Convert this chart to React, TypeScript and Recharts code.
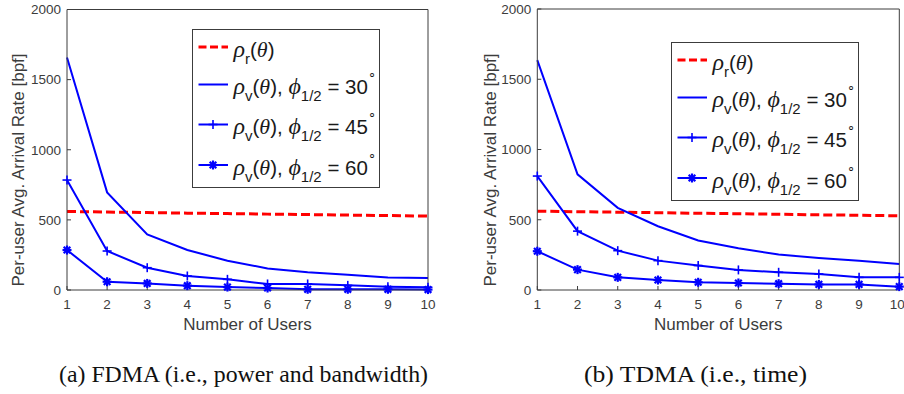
import { LineChart, Line, XAxis, YAxis } from 'recharts';

const users = [1, 2, 3, 4, 5, 6, 7, 8, 9, 10];
const yTicks = [0, 500, 1000, 1500, 2000];
const halfAngles = ['30', '45', '60'];

// (a) FDMA
const fdmaRhoR = [560, 556, 552, 548, 545, 541, 538, 534, 531, 527];
const fdma30 = [1658, 696, 397, 285, 209, 154, 126, 109, 90, 85];
const fdma45 = [784, 278, 159, 100, 76, 43, 43, 33, 24, 19];
const fdma60 = [285, 59, 47, 31, 21, 14, 5, 5, 5, 3];

// (b) TDMA
const tdmaRhoR = [561, 557, 554, 550, 546, 543, 539, 535, 532, 528];
const tdma30 = [1636, 823, 585, 454, 352, 297, 252, 228, 209, 185];
const tdma45 = [811, 419, 280, 209, 174, 143, 126, 114, 90, 90];
const tdma60 = [276, 145, 90, 71, 55, 50, 45, 40, 40, 24];

const captions = ['(a) FDMA (i.e., power and bandwidth)', '(b) TDMA (i.e., time)'];

const SANS = '"Liberation Sans", Arial, Helvetica, sans-serif';
const SERIF = '"Liberation Serif", "Times New Roman", serif';
const AXIS_GREY = '#3c3c3c';
const BLUE = '#0000ff';
const RED = '#ff0000';

const buildRows = (r: number[], a: number[], b: number[], c: number[]) =>
  users.map((u, i) => ({ users: u, rhoR: r[i], v30: a[i], v45: b[i], v60: c[i] }));

const PlusDot = (props: any) => {
  const { cx, cy } = props;
  if (cx == null || cy == null) return null;
  const s = 4.5;
  return (
    <g stroke={BLUE} strokeWidth={1.6}>
      <line x1={cx - s} y1={cy} x2={cx + s} y2={cy} />
      <line x1={cx} y1={cy - s} x2={cx} y2={cy + s} />
    </g>
  );
};

const StarDot = (props: any) => {
  const { cx, cy } = props;
  if (cx == null || cy == null) return null;
  const s = 4.5;
  const d = 3.3;
  return (
    <g stroke={BLUE} strokeWidth={2.2}>
      <line x1={cx - s} y1={cy} x2={cx + s} y2={cy} />
      <line x1={cx} y1={cy - s} x2={cx} y2={cy + s} />
      <line x1={cx - d} y1={cy - d} x2={cx + d} y2={cy + d} />
      <line x1={cx - d} y1={cy + d} x2={cx + d} y2={cy - d} />
    </g>
  );
};

function LegendBox({ left, top }: { left: number; top: number }) {
  const rowY = [18, 55.5, 95.5, 136];
  return (
    <svg
      width={188}
      height={159}
      style={{ position: 'absolute', left, top, overflow: 'visible' }}
    >
      <rect x={0.5} y={0.5} width={187} height={158} fill="#fff" stroke="#3c3c3c" strokeWidth={1} />
      {rowY.map((y, i) => {
        const base = y + 9.5;
        return (
          <g key={i}>
            {i === 0 ? (
              <line x1={6.5} x2={36} y1={y} y2={y} stroke={RED} strokeWidth={3} strokeDasharray="8 3.5" />
            ) : (
              <line x1={6.5} x2={36} y1={y} y2={y} stroke={BLUE} strokeWidth={2} />
            )}
            {i === 2 && <PlusDot cx={21} cy={y} />}
            {i === 3 && <StarDot cx={21} cy={y} />}
            <text x={41.5} y={base} fontSize={20.5} fontFamily={SANS} fill="#1a1a1a">
              <tspan fontFamily={SERIF} fontStyle="italic" fontSize={24}>ρ</tspan>
              <tspan fontSize={15} dy={7}>{i === 0 ? 'r' : 'v'}</tspan>
              <tspan dy={-7}>(</tspan>
              <tspan fontFamily={SERIF} fontStyle="italic" fontSize={22}>θ</tspan>
              <tspan>)</tspan>
              {i > 0 && (
                <>
                  <tspan>, </tspan>
                  <tspan fontFamily={SERIF} fontStyle="italic" fontSize={24}>ϕ</tspan>
                  <tspan fontSize={15} dy={7}>1/2</tspan>
                  <tspan dy={-7}>{` = ${halfAngles[i - 1]}`}</tspan>
                  <tspan fontSize={13} dy={-16}>∘</tspan>
                </>
              )}
            </text>
          </g>
        );
      })}
    </svg>
  );
}

interface PanelProps {
  rows: ReturnType<typeof buildRows>;
  left: number;
  width: number;
  yAxisWidth: number;
  marginTop: number;
  marginRight: number;
  yLabelX: number;
  legendLeft: number;
  legendTop: number;
}

function Panel({ rows, left, width, yAxisWidth, marginTop, marginRight, yLabelX, legendLeft, legendTop }: PanelProps) {
  const tickStyle = { fontSize: 13.5, fill: AXIS_GREY, fontFamily: SANS };
  return (
    <div style={{ position: 'absolute', left, top: 0, width, height: 340 }}>
      <LineChart
        width={width}
        height={340}
        data={rows}
        margin={{ top: marginTop, right: marginRight, bottom: 0, left: 0 }}
      >
        <XAxis
          dataKey="users"
          type="number"
          domain={[1, 10]}
          ticks={users}
          height={50}
          tickSize={-4}
          tickMargin={13}
          stroke={AXIS_GREY}
          tick={tickStyle}
          label={{
            value: 'Number of Users',
            position: 'insideBottom',
            offset: 10,
            fontSize: 17,
            fill: AXIS_GREY,
            fontFamily: SANS,
          }}
        />
        <XAxis
          xAxisId="top"
          orientation="top"
          dataKey="users"
          type="number"
          domain={[1, 10]}
          ticks={users}
          height={1}
          tickSize={-4}
          tick={false}
          stroke={AXIS_GREY}
        />
        <YAxis
          type="number"
          domain={[0, 2000]}
          ticks={yTicks}
          width={yAxisWidth}
          tickSize={-4}
          tickMargin={10}
          stroke={AXIS_GREY}
          tick={tickStyle}
          label={() => (
            <text
              x={yLabelX}
              y={170}
              transform={`rotate(-90, ${yLabelX}, 170)`}
              textAnchor="middle"
              fontSize={17}
              fill={AXIS_GREY}
              fontFamily={SANS}
            >
              Per-user Avg. Arrival Rate [bpf]
            </text>
          )}
        />
        <YAxis
          yAxisId="right"
          orientation="right"
          type="number"
          domain={[0, 2000]}
          ticks={yTicks}
          width={1}
          tickSize={-4}
          tick={false}
          stroke={AXIS_GREY}
        />
        <Line
          dataKey="rhoR"
          stroke={RED}
          strokeWidth={3}
          strokeDasharray="9 4"
          dot={false}
          isAnimationActive={false}
        />
        <Line dataKey="v30" stroke={BLUE} strokeWidth={2} dot={false} isAnimationActive={false} />
        <Line dataKey="v45" stroke={BLUE} strokeWidth={2} dot={<PlusDot />} isAnimationActive={false} />
        <Line dataKey="v60" stroke={BLUE} strokeWidth={2} dot={<StarDot />} isAnimationActive={false} />
      </LineChart>
      <LegendBox left={legendLeft} top={legendTop} />
    </div>
  );
}

export default function App() {
  const fdmaRows = buildRows(fdmaRhoR, fdma30, fdma45, fdma60);
  const tdmaRows = buildRows(tdmaRhoR, tdma30, tdma45, tdma60);
  return (
    <div
      style={{
        position: 'absolute',
        left: 0,
        top: 0,
        width: 904,
        height: 394,
        background: '#fff',
        overflow: 'hidden',
      }}
    >
      <Panel
        rows={fdmaRows}
        left={0}
        width={450}
        yAxisWidth={67}
        marginTop={8.5}
        marginRight={21}
        yLabelX={24}
        legendLeft={191.7}
        legendTop={29.3}
      />
      <Panel
        rows={tdmaRows}
        left={450}
        width={454}
        yAxisWidth={87.3}
        marginTop={8}
        marginRight={3.7}
        yLabelX={45.5}
        legendLeft={221}
        legendTop={41.7}
      />
      <svg width={904} height={394} style={{ position: 'absolute', left: 0, top: 0, pointerEvents: 'none' }}>
        <text x={243.5} y={381.7} textAnchor="middle" fontSize={23} fontFamily={SERIF} fill="#111" textLength={369} lengthAdjust="spacingAndGlyphs">
          {captions[0]}
        </text>
        <text x={695.5} y={381.7} textAnchor="middle" fontSize={23} fontFamily={SERIF} fill="#111" textLength={223} lengthAdjust="spacingAndGlyphs">
          {captions[1]}
        </text>
      </svg>
    </div>
  );
}
